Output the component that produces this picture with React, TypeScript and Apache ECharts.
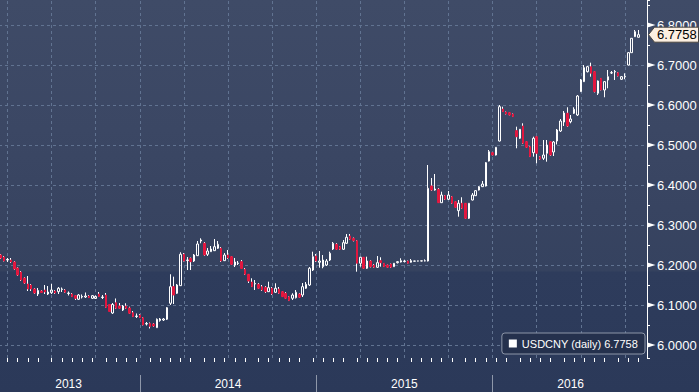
import React, { useEffect, useRef } from "react";
import * as echarts from "echarts";

const SERIES_NAME = "USDCNY";
const LEGEND_LABEL = "USDCNY (daily)";
const FIRST_WEEK = "2013-03-18";
const WEEK_SLOTS = 191;

// weekly OHLC
const opens = [
  6.2250, 6.2200, 6.2125, 6.2125, 6.2075, 6.1925, 6.1825, 6.1675, 6.1525, 6.1500,
  6.1400, 6.1275, 6.1350, 6.1375, 6.1275, 6.1308, 6.1350, 6.1333, 6.1388, 6.1375,
  6.1288, 6.1275, 6.1233, 6.1143, 6.1200, 6.1200, 6.1225, 6.1168, 6.1163, 6.1275,
  6.1188, 6.1250, 6.1013, 6.0800, 6.1058, 6.0975, 6.0875, 6.0975, 6.0925, 6.0808,
  6.0713, 6.0750, 6.0683, 6.0525, 6.0538, 6.0525, 6.0433, 6.0613, 6.0625, 6.0643,
  6.1043, 6.1458, 6.1293, 6.1483, 6.2268, 6.2113, 6.2168, 6.2100, 6.2233, 6.2600,
  6.2543, 6.2268, 6.2333, 6.2358, 6.2418, 6.2418, 6.2108, 6.2250, 6.2208, 6.2000,
  6.2038, 6.2083, 6.1893, 6.1768, 6.1575, 6.1525, 6.1518, 6.1458, 6.1443, 6.1333,
  6.1418, 6.1318, 6.1400, 6.1333, 6.1293, 6.1208, 6.1168, 6.1183, 6.1275, 6.1250,
  6.1418, 6.1500, 6.1875, 6.2225, 6.2068, 6.1958, 6.2000, 6.2125, 6.2400, 6.2518,
  6.2458, 6.2393, 6.2543, 6.2725, 6.2668, 6.2608, 6.2043, 6.2193, 6.1918, 6.2100,
  6.2000, 6.1943, 6.2108, 6.2043, 6.2000, 6.2025, 6.1958, 6.2058, 6.2075, 6.2088,
  6.2100, 6.2068, 6.2095, 6.2098, 6.2100, 6.2102, 6.2100, 6.3975, 6.3875, 6.3893,
  6.3558, 6.3733, 6.3643, 6.3708, 6.3583, 6.3358, 6.3543, 6.3543, 6.3168, 6.3625,
  6.3733, 6.3875, 6.3958, 6.3975, 6.4600, 6.4808, 6.4750, 6.5100, 6.5900, 6.5825,
  6.5808, 6.5775, 6.5358, 6.5168, 6.5475, 6.5083, 6.4958, 6.4808, 6.5208, 6.4708,
  6.4668, 6.4793, 6.5083, 6.4825, 6.5100, 6.5350, 6.5575, 6.5793, 6.5583, 6.5793,
  6.5750, 6.6333, 6.6583, 6.6833, 6.6958, 6.6833, 6.6293, 6.6668, 6.6375, 6.6625,
  6.6800, 6.6825, 6.6808, 6.6643, 6.6700, 6.7000, 6.7308, 6.7708, 6.7693,
];
const closes = [
  6.2175, 6.2100, 6.2138, 6.2075, 6.1900, 6.1750, 6.1625, 6.1550, 6.1400, 6.1400,
  6.1300, 6.1363, 6.1313, 6.1325, 6.1325, 6.1375, 6.1300, 6.1418, 6.1400, 6.1318,
  6.1300, 6.1208, 6.1168, 6.1250, 6.1213, 6.1225, 6.1183, 6.1233, 6.1213, 6.1213,
  6.1200, 6.0938, 6.0838, 6.1013, 6.0918, 6.0918, 6.0975, 6.0918, 6.0793, 6.0708,
  6.0725, 6.0683, 6.0500, 6.0538, 6.0463, 6.0475, 6.0643, 6.0650, 6.0650, 6.0933,
  6.1458, 6.1250, 6.1500, 6.2268, 6.2100, 6.2125, 6.2083, 6.2250, 6.2525, 6.2625,
  6.2250, 6.2350, 6.2400, 6.2458, 6.2518, 6.2100, 6.2250, 6.2175, 6.2018, 6.2075,
  6.2050, 6.1913, 6.1768, 6.1600, 6.1458, 6.1538, 6.1418, 6.1375, 6.1333, 6.1433,
  6.1275, 6.1418, 6.1293, 6.1208, 6.1168, 6.1108, 6.1250, 6.1318, 6.1193, 6.1458,
  6.1518, 6.1918, 6.2208, 6.2100, 6.2100, 6.2125, 6.2100, 6.2293, 6.2543, 6.2393,
  6.2393, 6.2558, 6.2693, 6.2643, 6.2608, 6.2043, 6.2193, 6.1918, 6.2100, 6.1958,
  6.1943, 6.2058, 6.2058, 6.1958, 6.1943, 6.1943, 6.2043, 6.2083, 6.2108, 6.2100,
  6.2043, 6.2108, 6.2100, 6.2102, 6.2104, 6.2106, 6.3918, 6.3875, 6.3900, 6.3558,
  6.3750, 6.3643, 6.3750, 6.3543, 6.3443, 6.3543, 6.3418, 6.3168, 6.3543, 6.3750,
  6.3858, 6.3958, 6.4025, 6.4558, 6.4833, 6.4750, 6.4943, 6.5958, 6.5833, 6.5775,
  6.5750, 6.5708, 6.5208, 6.5393, 6.5043, 6.4943, 6.4708, 6.5168, 6.4793, 6.4643,
  6.4750, 6.5000, 6.4750, 6.5075, 6.5375, 6.5600, 6.5800, 6.5475, 6.5650, 6.5893,
  6.6225, 6.6625, 6.6933, 6.6958, 6.6793, 6.6333, 6.6600, 6.6375, 6.6583, 6.6708,
  6.6808, 6.6838, 6.6725, 6.6708, 6.6713, 6.7308, 6.7668, 6.7833, 6.7758,
];
const lows = [
  6.2150, 6.2088, 6.2075, 6.2050, 6.1875, 6.1725, 6.1600, 6.1525, 6.1350, 6.1350,
  6.1275, 6.1225, 6.1300, 6.1275, 6.1250, 6.1275, 6.1275, 6.1275, 6.1325, 6.1300,
  6.1238, 6.1200, 6.1125, 6.1125, 6.1163, 6.1175, 6.1175, 6.1150, 6.1150, 6.1213,
  6.1150, 6.0925, 6.0825, 6.0775, 6.0900, 6.0900, 6.0850, 6.0900, 6.0775, 6.0700,
  6.0675, 6.0675, 6.0488, 6.0488, 6.0413, 6.0450, 6.0425, 6.0583, 6.0600, 6.0625,
  6.1000, 6.1025, 6.1275, 6.1475, 6.2088, 6.1875, 6.1875, 6.2075, 6.2225, 6.2543,
  6.2225, 6.2225, 6.2325, 6.2350, 6.2400, 6.2075, 6.2100, 6.2150, 6.2000, 6.1950,
  6.2000, 6.1900, 6.1750, 6.1550, 6.1450, 6.1375, 6.1400, 6.1350, 6.1300, 6.1325,
  6.1250, 6.1300, 6.1275, 6.1200, 6.1150, 6.1100, 6.1125, 6.1163, 6.1175, 6.1200,
  6.1400, 6.1475, 6.1850, 6.2075, 6.1933, 6.1918, 6.1975, 6.2100, 6.2375, 6.2375,
  6.2375, 6.2375, 6.2525, 6.2625, 6.2588, 6.1833, 6.1958, 6.1900, 6.1900, 6.1938,
  6.1925, 6.1925, 6.1958, 6.1950, 6.1925, 6.1925, 6.1950, 6.2038, 6.2063, 6.2063,
  6.2038, 6.2058, 6.2088, 6.2090, 6.2092, 6.2090, 6.2088, 6.3850, 6.3858, 6.3550,
  6.3550, 6.3625, 6.3625, 6.3525, 6.3425, 6.3208, 6.3400, 6.3150, 6.3150, 6.3613,
  6.3725, 6.3863, 6.3950, 6.3963, 6.4588, 6.4738, 6.4738, 6.5088, 6.5825, 6.5763,
  6.5738, 6.5700, 6.4918, 6.5150, 6.5025, 6.4925, 6.4700, 6.4708, 6.4543, 6.4625,
  6.4625, 6.4583, 6.4725, 6.4725, 6.5013, 6.5325, 6.5475, 6.5450, 6.5543, 6.5775,
  6.5725, 6.6325, 6.6575, 6.6813, 6.6708, 6.6313, 6.6250, 6.6363, 6.6193, 6.6418,
  6.6775, 6.6625, 6.6713, 6.6625, 6.6643, 6.6988, 6.7300, 6.7700, 6.7688,
];
const highs = [
  6.2275, 6.2225, 6.2175, 6.2175, 6.2100, 6.1950, 6.1850, 6.1700, 6.1725, 6.1525,
  6.1425, 6.1425, 6.1375, 6.1500, 6.1475, 6.1525, 6.1375, 6.1450, 6.1438, 6.1400,
  6.1338, 6.1300, 6.1250, 6.1275, 6.1263, 6.1313, 6.1250, 6.1250, 6.1238, 6.1325,
  6.1250, 6.1300, 6.1025, 6.1050, 6.1163, 6.1050, 6.1000, 6.1043, 6.0958, 6.0850,
  6.0788, 6.0775, 6.0700, 6.0575, 6.0563, 6.0550, 6.0663, 6.0675, 6.0675, 6.0950,
  6.1768, 6.1708, 6.1525, 6.2318, 6.2300, 6.2200, 6.2188, 6.2275, 6.2600, 6.2668,
  6.2575, 6.2425, 6.2475, 6.2650, 6.2600, 6.2450, 6.2300, 6.2375, 6.2225, 6.2175,
  6.2100, 6.2125, 6.1925, 6.1775, 6.1668, 6.1625, 6.1550, 6.1500, 6.1475, 6.1583,
  6.1450, 6.1543, 6.1450, 6.1350, 6.1325, 6.1225, 6.1293, 6.1375, 6.1300, 6.1550,
  6.1575, 6.1950, 6.2333, 6.2275, 6.2350, 6.2250, 6.2150, 6.2333, 6.2575, 6.2550,
  6.2475, 6.2625, 6.2775, 6.2775, 6.2688, 6.2625, 6.2208, 6.2200, 6.2208, 6.2125,
  6.2025, 6.2225, 6.2193, 6.2050, 6.2013, 6.2038, 6.2050, 6.2100, 6.2168, 6.2125,
  6.2113, 6.2150, 6.2105, 6.2108, 6.2110, 6.2140, 6.4500, 6.4175, 6.4275, 6.3925,
  6.3833, 6.3750, 6.3850, 6.3725, 6.3600, 6.3625, 6.3693, 6.3550, 6.3550, 6.3800,
  6.3875, 6.3975, 6.4100, 6.4575, 6.4875, 6.4825, 6.4950, 6.6000, 6.5958, 6.5838,
  6.5825, 6.5788, 6.5458, 6.5400, 6.5543, 6.5100, 6.4975, 6.5208, 6.5225, 6.4725,
  6.5125, 6.5125, 6.5100, 6.5100, 6.5400, 6.5650, 6.5850, 6.5943, 6.5750, 6.5943,
  6.6250, 6.6650, 6.7000, 6.6975, 6.7058, 6.6850, 6.6613, 6.6675, 6.6600, 6.6875,
  6.6850, 6.6875, 6.6825, 6.6725, 6.6793, 6.7325, 6.7675, 6.7875, 6.7875,
];

const priceTicks = [6.0, 6.1, 6.2, 6.3, 6.4, 6.5, 6.6, 6.7, 6.8];
const Y_MIN = 5.9675;
const Y_MAX = 6.8625;

const FONT = '"Liberation Sans", Arial, sans-serif';
const GRID_RIGHT = 52;
const UP_BORDER = "#ffffff";
const DOWN_COLOR = "#e2173f";
const GRID_LINE = "#617391";

const DAY = 86400000;
function buildWeeks(first: string, n: number): string[] {
  const t0 = Date.parse(first + "T00:00:00Z");
  const out: string[] = [];
  for (let i = 0; i < n; i++) out.push(new Date(t0 + i * 7 * DAY).toISOString().slice(0, 10));
  return out;
}
const weeks = buildWeeks(FIRST_WEEK, WEEK_SLOTS);
const weekEnd = (d: string) => new Date(Date.parse(d + "T00:00:00Z") + 6 * DAY);
const yearOf = (d: string) => weekEnd(d).getUTCFullYear();
const quarterOf = (d: string) => {
  const e = weekEnd(d);
  return e.getUTCFullYear() * 4 + Math.floor(e.getUTCMonth() / 3);
};

const quarterStarts = weeks.filter((d, i) => i > 0 && quarterOf(d) !== quarterOf(weeks[i - 1]));
const yearStartIdx = new Set<number>();
weeks.forEach((d, i) => {
  if (i > 0 && yearOf(d) !== yearOf(weeks[i - 1])) yearStartIdx.add(i);
});
const yearMidIdx = new Set<number>();
{
  let s = 0;
  for (let i = 1; i <= weeks.length; i++) {
    if (i === weeks.length || yearOf(weeks[i]) !== yearOf(weeks[s])) {
      yearMidIdx.add(Math.ceil((s + i - 1) / 2));
      s = i;
    }
  }
}
const smallTick = (i: number) => {
  const k = Math.round((i - 1.8) / 3.21);
  return Math.round(1.8 + 3.21 * k) === i;
};
const isTenth = (v: number) => Math.abs(v * 10 - Math.round(v * 10)) < 1e-6;

const lastClose = closes[closes.length - 1];

const mainData = opens.map((o, i) => {
  const c = closes[i];
  return c >= o ? [o, c, lows[i], highs[i]] : [o, c, c, o];
});
const wickData = opens.map((o, i) => {
  const c = closes[i];
  return c >= o ? ["-", "-", "-", "-"] : [o, c, lows[i], highs[i]];
});

export default function App() {
  const ref = useRef<HTMLDivElement>(null);
  useEffect(() => {
    if (!ref.current) return;
    const chart = echarts.init(ref.current, null, { renderer: "svg" });
    const option: any = {
      animation: false,
      backgroundColor: {
        type: "linear",
        x: 0, y: 0, x2: 0, y2: 1,
        colorStops: [
          { offset: 0, color: "#3f4b67" },
          { offset: 0.33, color: "#3b4764" },
          { offset: 0.53, color: "#384461" },
          { offset: 0.69, color: "#35425f" },
          { offset: 0.695, color: "#2e3c5c" },
          { offset: 1, color: "#2b3959" },
        ],
      },
      textStyle: { fontFamily: FONT },
      grid: { left: -1, right: GRID_RIGHT, top: 0, bottom: 34, containLabel: false, outerBoundsMode: "none" },
      legend: {
        data: [SERIES_NAME],
        right: 54,
        top: 333,
        icon: "rect",
        itemWidth: 8,
        itemHeight: 8,
        padding: [5, 7, 5, 7],
        backgroundColor: "#25314d",
        borderColor: "#8d96a8",
        borderWidth: 1,
        borderRadius: 3,
        selectedMode: false,
        formatter: () => `${LEGEND_LABEL} ${lastClose.toFixed(4)}`,
        textStyle: { color: "#ffffff", fontSize: 11, fontFamily: FONT },
        itemStyle: { color: "#ffffff", borderWidth: 0 },
      },
      xAxis: [
        {
          type: "category",
          data: weeks,
          boundaryGap: true,
          axisLine: { show: false },
          axisTick: {
            show: true,
            alignWithLabel: true,
            length: 4,
            interval: (i: number) => smallTick(i),
            lineStyle: { color: "#ffffff", width: 1 },
          },
          axisLabel: { show: false },
          splitLine: { show: false },
        },
        {
          type: "category",
          data: weeks,
          boundaryGap: true,
          position: "bottom",
          offset: 17,
          axisLine: { show: false },
          axisTick: {
            show: true,
            alignWithLabel: true,
            length: 17,
            interval: (i: number) => yearStartIdx.has(i),
            lineStyle: { color: "#8e97a9", width: 1 },
          },
          axisLabel: {
            show: true,
            interval: (i: number) => yearMidIdx.has(i),
            formatter: (v: string) => String(yearOf(v)),
            color: "#ffffff",
            fontSize: 12,
            margin: 3,
            fontFamily: FONT,
          },
          splitLine: { show: false },
        },
      ],
      yAxis: {
        type: "value",
        position: "right",
        min: Y_MIN,
        max: Y_MAX,
        splitNumber: 9,
        axisLine: { show: true, lineStyle: { color: "#ffffff", width: 1 } },
        axisTick: { show: true, length: 3, lineStyle: { color: "#ffffff" } },
        minorTick: { show: true, splitNumber: 2, length: 3, lineStyle: { color: "#ffffff" } },
        axisLabel: {
          formatter: (v: number) => (isTenth(v) ? v.toFixed(4) : ""),
          color: "#ffffff",
          fontSize: 13,
          margin: 10,
          fontFamily: FONT,
        },
        splitLine: { show: false },
      },
      series: [
        {
          name: "wick",
          type: "candlestick",
          data: wickData,
          barWidth: 1,
          z: 2,
          silent: true,
          itemStyle: {
            color: "#ffffff",
            color0: "#ffffff",
            borderColor: "#ffffff",
            borderColor0: "#ffffff",
            borderWidth: 1,
          },
          markLine: {
            silent: true,
            z: 1,
            symbol: "none",
            label: { show: false },
            emphasis: { disabled: true },
            lineStyle: { color: GRID_LINE, type: [3, 3], width: 1 },
            data: [
              ...priceTicks.map((v) => ({ yAxis: v })),
              ...quarterStarts.map((d) => ({ xAxis: d })),
            ],
          },
        },
        {
          name: SERIES_NAME,
          type: "candlestick",
          data: mainData,
          barWidth: 2,
          z: 3,
          itemStyle: {
            color: "rgba(0,0,0,0)",
            color0: DOWN_COLOR,
            borderColor: UP_BORDER,
            borderColor0: DOWN_COLOR,
            borderWidth: 1,
          },
        },
      ],
    };
    chart.setOption(option);

    const W = chart.getWidth();
    const ax = W - GRID_RIGHT;
    const graphics: any[] = [];
    priceTicks.forEach((v) => {
      const y = chart.convertToPixel({ yAxisIndex: 0 }, v) as number;
      graphics.push({
        type: "polygon",
        z: 50,
        silent: true,
        shape: { points: [[ax + 0.5, y - 2.5], [ax + 8.5, y], [ax + 0.5, y + 2.5]] },
        style: { fill: "#ffffff" },
      });
    });
    const yl = chart.convertToPixel({ yAxisIndex: 0 }, lastClose) as number;
    graphics.push({
      type: "polygon",
      z: 60,
      silent: true,
      shape: {
        points: [
          [ax + 1.5, yl],
          [ax + 7.5, yl - 7.5],
          [W - 0.5, yl - 7.5],
          [W - 0.5, yl + 7.5],
          [ax + 7.5, yl + 7.5],
        ],
      },
      style: { fill: "#fcefe1", stroke: "#4a4640", lineWidth: 1 },
    });
    graphics.push({
      type: "text",
      z: 61,
      silent: true,
      x: ax + 10,
      y: yl,
      style: {
        text: lastClose.toFixed(4),
        fill: "#000000",
        font: `13px ${FONT}`,
        align: "left",
        verticalAlign: "middle",
        textAlign: "left",
        textVerticalAlign: "middle",
      },
    });
    chart.setOption({ graphic: graphics });

    return () => chart.dispose();
  }, []);

  return (
    <div
      ref={ref}
      style={{ position: "fixed", left: 0, top: 0, width: 699, height: 392 }}
    />
  );
}
